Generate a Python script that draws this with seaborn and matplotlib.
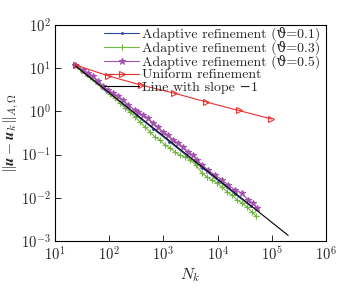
import numpy as np
import pandas as pd
import matplotlib
matplotlib.use("Agg")
import matplotlib.pyplot as plt
import seaborn as sns
from matplotlib.mathtext import MathTextParser

# ---- data ----
n_blue = [23.4, 40, 80, 160, 320, 640, 1280, 2560, 5120, 10240, 20480, 40960]
e_blue = [11.6, 6.6, 3.3, 1.62, 0.80, 0.40, 0.20, 0.099, 0.050, 0.025, 0.0125, 0.0063]

n_green = [23.4, 28.9, 35.7, 44.2, 54.7, 67.6, 83.7, 103.5, 128, 158, 196, 242, 299, 370,
           458, 566, 700, 866, 1071, 1325, 1638, 2025, 2506, 3097, 3990, 5152, 6370, 7880,
           9750, 12050, 14900, 18450, 22800, 28200, 34850, 43100, 51000]
e_green = [11.86, 9.57, 7.74, 6.26, 5.06, 4.08, 3.30, 2.53, 2.04, 1.56, 1.20, 0.968, 0.741,
           0.569, 0.435, 0.334, 0.255, 0.218, 0.167, 0.142, 0.115, 0.098, 0.088, 0.075,
           0.0574, 0.0375, 0.0303, 0.0258, 0.0220, 0.0178, 0.0136, 0.0116, 0.00889,
           0.00758, 0.00612, 0.00469, 0.00379]

n_purple = [23.4, 32.9, 40.7, 50.3, 62.1, 76.9, 95.1, 117.5, 145, 180, 222, 299, 340, 420,
            520, 643, 795, 984, 1216, 1503, 1858, 2300, 2843, 3516, 4170, 5152, 6650, 8955,
            12050, 15560, 20950, 28200, 36400, 45000, 53300]
e_purple = [11.86, 9.08, 7.74, 6.60, 5.06, 3.87, 3.13, 2.67, 2.27, 1.84, 1.41, 1.08, 0.968,
            0.826, 0.703, 0.539, 0.435, 0.334, 0.284, 0.218, 0.186, 0.150, 0.115, 0.098,
            0.075, 0.0574, 0.0440, 0.0337, 0.0258, 0.0198, 0.0152, 0.0129, 0.00889,
            0.00758, 0.00581]

n_uniform = [24, 97, 385, 1540, 6150, 24500, 98300]
e_uniform = [11.9, 6.6, 4.08, 2.67, 1.65, 1.05, 0.667]

n_slope = [24, 200000]
e_slope = [11.25, 0.00135]

labels = ["Adaptive refinement (\u03d1=0.1)",
          "Adaptive refinement (\u03d1=0.3)",
          "Adaptive refinement (\u03d1=0.5)",
          "Uniform refinement",
          "Line with slope \u22121"]

xticks = [1e1, 1e2, 1e3, 1e4, 1e5, 1e6]
yticks = [1e-3, 1e-2, 1e-1, 1e0, 1e1, 1e2]

# ---- style ----
sns.set_theme(style="ticks")
plt.rcParams["font.family"] = ["cmr10", "DejaVu Serif"]
plt.rcParams["mathtext.fontset"] = "cm"
plt.rcParams["axes.formatter.use_mathtext"] = True
plt.rcParams["axes.unicode_minus"] = False

fig = plt.figure(figsize=(3.48, 2.89), dpi=100)
ax = fig.add_axes([0.158, 0.166, 0.779, 0.7475])

series = [
    (n_blue, e_blue, "#2b4a9c", ".", 2.5, labels[0]),
    (n_green, e_green, "#72b53f", "+", 5, labels[1]),
    (n_purple, e_purple, "#a352b0", "*", 5, labels[2]),
]
for n, e, c, m, ms, lab in series:
    sns.lineplot(x=n, y=e, ax=ax, color=c, marker=m, markersize=ms, linewidth=0.8,
                 markeredgewidth=0.8, markeredgecolor=c, markerfacecolor=c,
                 label=lab, sort=False, estimator=None)

sns.lineplot(x=n_uniform, y=e_uniform, ax=ax, color="#e8312f", marker=">", markersize=5,
             markerfacecolor="none", markeredgecolor="#e8312f", markeredgewidth=0.8,
             linewidth=0.8, label=labels[3], sort=False, estimator=None)
sns.lineplot(x=n_slope, y=e_slope, ax=ax, color="black", linewidth=0.8,
             label=labels[4], sort=False, estimator=None)

ax.set_xscale("log")
ax.set_yscale("log")
ax.set_xlim(1e1, 1e6)
ax.set_ylim(1e-3, 1e2)
ax.set_xticks(xticks)
ax.set_yticks(yticks)
ax.minorticks_off()
ax.tick_params(direction="in", length=4, width=0.7, labelsize=10.5, pad=3)
for s in ax.spines.values():
    s.set_linewidth(0.8)
    s.set_color("black")

ylab = r"$\|\mathbfit{u}-\mathbfit{u}_k\|_{A,\Omega}$"
try:
    MathTextParser("agg").parse(ylab, dpi=100)
except Exception:
    ylab = r"$\|\mathbf{u}-\mathbf{u}_k\|_{A,\Omega}$"

ax.set_xlabel(r"$N_k$", fontsize=11.5, labelpad=2)
ax.set_ylabel(ylab, fontsize=11, labelpad=0)

leg = ax.legend(loc="upper right", frameon=False, fontsize=10.0, handlelength=2.5,
                handletextpad=0.25, labelspacing=-0.02, borderaxespad=0.0, borderpad=0.1,
                bbox_to_anchor=(0.985, 1.0))

fig.savefig("out.png", dpi=100)
